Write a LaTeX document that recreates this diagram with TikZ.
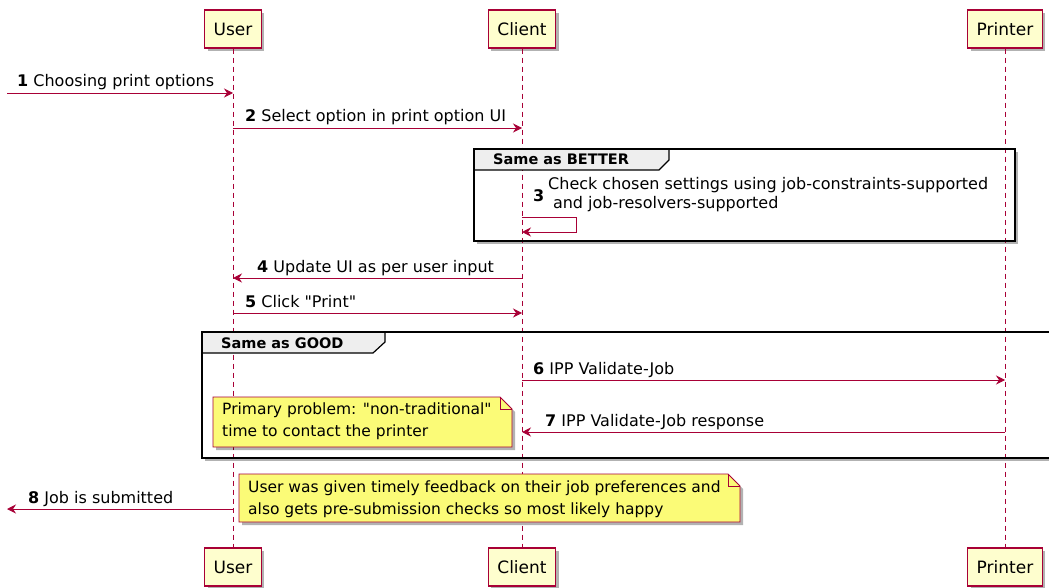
\documentclass[tikz,border=0pt]{standalone}
\usepackage{fontspec}
\setmainfont{DejaVu Sans}
\usepackage{tikz}
\usetikzlibrary{calc, arrows.meta, shadows}
\pgfdeclarelayer{background}
\pgfsetlayers{background,main}
\definecolor{umlred}{HTML}{A80036}
\definecolor{umlbox}{HTML}{FEFECE}
\definecolor{umlnote}{HTML}{FBFB77}
\definecolor{umltab}{HTML}{EEEEEE}
\tikzstyle{shade}    = [drop shadow={shadow xshift=3pt, shadow yshift=-3pt, opacity=.3, fill=black}]
\tikzstyle{actor}    = [draw=umlred, fill=umlbox, line width=1.2pt, minimum height=38pt, inner xsep=9pt, font=\fontsize{17}{20}\selectfont, shade]
\tikzstyle{life}     = [umlred, line width=.8pt, dash pattern=on 5pt off 4pt]
\tikzstyle{arrow}    = [umlred, line width=.9pt, ->, >={Stealth[length=9pt, width=9pt, inset=3pt]}]
\tikzstyle{msg}      = [anchor=base west, inner sep=0pt, font=\fontsize{16}{19}\selectfont]
\tikzstyle{frame}    = [line width=2.4pt]
\tikzstyle{tab}      = [draw, line width=1.2pt, fill=umltab]
\tikzstyle{tablabel} = [anchor=base west, inner sep=0pt, font=\bfseries\fontsize{14.5}{17}\selectfont]
\tikzstyle{note}     = [draw=umlred, fill=umlnote, line width=.9pt, shade]
\tikzstyle{notetext} = [anchor=north west, inner sep=0pt, align=left, font=\fontsize{15.5}{21.5}\selectfont]

\begin{document}
\begin{tikzpicture}[x=1pt, y=-1pt]
  \useasboundingbox (0,0) rectangle (1049,588);

  % participants
  \node[actor] (user)     at (233,29)  {User};
  \node[actor] (client)   at (522,29)  {Client};
  \node[actor] (printer)  at (1005,29) {Printer};
  \node[actor] (userB)    at (233,567) {User};
  \node[actor] (clientB)  at (522,567) {Client};
  \node[actor] (printerB) at (1005,567) {Printer};

  % lifelines
  \draw[life] (user) -- (userB);
  \draw[life] (client) -- (clientB);
  \draw[life] (printer) -- (printerB);

  % group frames
  \begin{pgfonlayer}{background}
    \fill[white, shade] (474,149) rectangle (1015,241);
    \fill[white, shade] (202,332) rectangle (1060,458);
  \end{pgfonlayer}
  \draw[tab] (474,149) -- (669,149) -- (669,160) -- (659,170) -- (474,170) -- cycle;
  \draw[frame] (474,149) rectangle (1015,241);
  \node[tablabel] (better) at (493,165) {Same as BETTER};
  \draw[tab] (202,332) -- (385,332) -- (385,342) -- (373,353) -- (202,353) -- cycle;
  \draw[frame] (202,332) rectangle (1060,458);
  \node[tablabel] (good) at (221,348) {Same as GOOD};

  % messages
  \coordinate (start) at (7,93);
  \draw[arrow] (start) -- (user |- 0,93);
  \node[msg] (l1) at (17,87) {\textbf{1} Choosing print options};

  \draw[arrow] (user |- 0,128) -- (client |- 0,128);
  \node[msg] (l2) at (245,122) {\textbf{2} Select option in print option UI};

  \draw[arrow] (client |- 0,217) -| (576,232) -- (client |- 0,232);
  \node[msg, anchor=west] (l3) at (533,196) {\textbf{3}};
  \node[msg, anchor=north west, align=left] (l3t) at (548,177)
    {Check chosen settings using job-constraints-supported\\\hspace*{.3em}and job-resolvers-supported};

  \draw[arrow] (client |- 0,278) -- (user |- 0,278);
  \node[msg] (l4) at (257,272) {\textbf{4} Update UI as per user input};

  \draw[arrow] (user |- 0,313) -- (client |- 0,313);
  \node[msg] (l5) at (245,307) {\textbf{5} Click \textquotedbl Print\textquotedbl};

  \draw[arrow] (client |- 0,380) -- (printer |- 0,380);
  \node[msg] (l6) at (533,374) {\textbf{6} IPP Validate-Job};

  \draw[arrow] (printer |- 0,432) -- (client |- 0,432);
  \node[msg] (l7) at (545,426) {\textbf{7} IPP Validate-Job response};

  \coordinate (finish) at (7,509);
  \draw[arrow] (user |- 0,509) -- (finish);
  \node[msg] (l8) at (28,503) {\textbf{8} Job is submitted};

  % notes
  \draw[note] (213,397) -- (500,397) -- (512,409) -- (512,447) -- (213,447) -- cycle;
  \draw[umlred, line width=.9pt] (500,397) -- (500,409) -- (512,409);
  \node[notetext] (problem) at (222,403)
    {Primary problem: \textquotedbl non-traditional\textquotedbl\\time to contact the printer};

  \draw[note] (239,474) -- (728,474) -- (740,486) -- (740,522) -- (239,522) -- cycle;
  \draw[umlred, line width=.9pt] (728,474) -- (728,486) -- (740,486);
  \node[notetext] (happy) at (248,481)
    {User was given timely feedback on their job preferences and\\also gets pre-submission checks so most likely happy};
\end{tikzpicture}
\end{document}
